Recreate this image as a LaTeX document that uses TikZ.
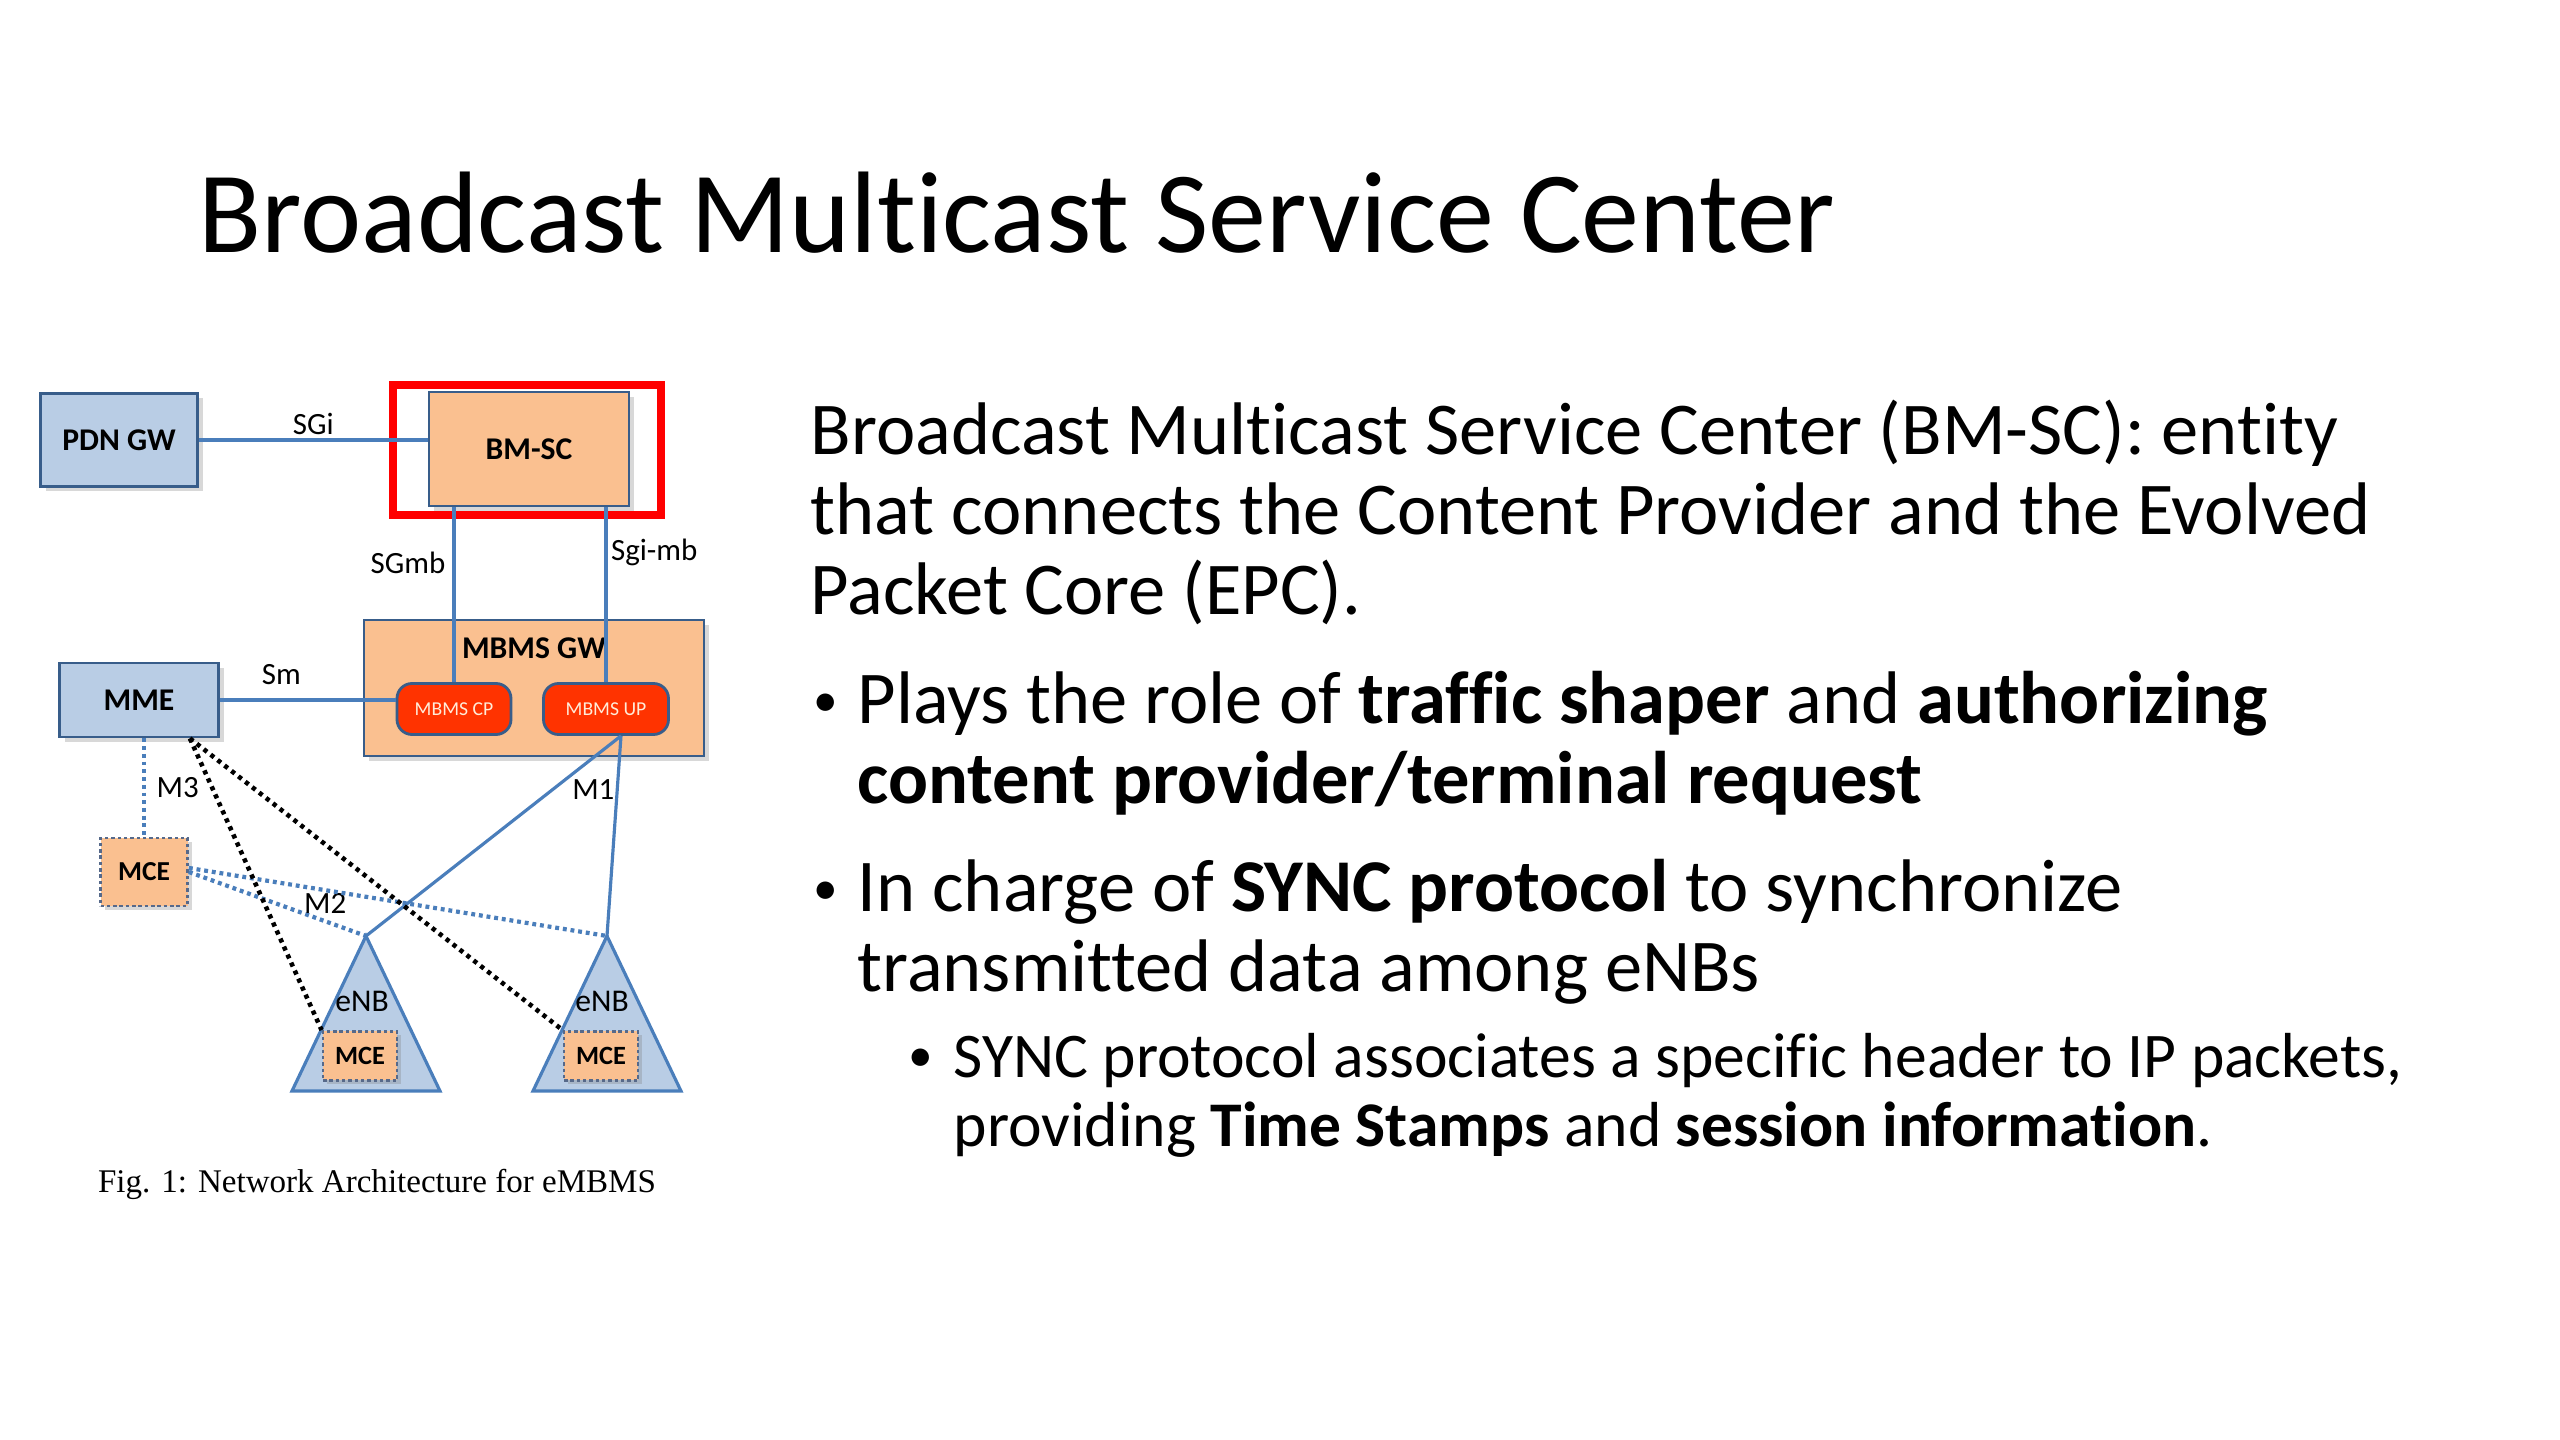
\documentclass[tikz,border=0pt]{standalone}
\usepackage{fontspec}
\setmainfont{Carlito}[Ligatures=NoCommon]
\newfontfamily\capfont{Liberation Serif}
\usepackage{tikz}
\usetikzlibrary{calc,positioning,shadows}
\definecolor{boxblue}{HTML}{B9CDE5}
\definecolor{edgeblue}{HTML}{4A7EBB}
\definecolor{darkedge}{HTML}{385D8A}
\definecolor{boxorange}{HTML}{FAC090}
\definecolor{cpred}{HTML}{FF3300}
\definecolor{mceedge}{HTML}{56698A}

\tikzset{
  netbox/.style={rectangle, draw=darkedge, line width=0.8pt, inner sep=0pt,
    font=\fontsize{9}{10}\selectfont\bfseries,
    drop shadow={shadow xshift=0.5mm, shadow yshift=-0.5mm, opacity=0.3}},
  bluebox/.style={netbox, fill=boxblue},
  orangebox/.style={netbox, fill=boxorange},
  subbox/.style={rectangle, rounded corners=1.5mm, fill=cpred, draw=darkedge, line width=0.8pt,
    text=white!85!orange, font=\fontsize{5.6}{6}\selectfont, inner sep=0pt},
  mcebox/.style={rectangle, fill=boxorange, draw=mceedge, dash pattern=on 1pt off 0.8pt, line width=0.8pt,
    font=\fontsize{7.8}{9}\selectfont\bfseries, inner sep=0pt,
    drop shadow={shadow xshift=0.4mm, shadow yshift=-0.4mm, opacity=0.3}},
  enbshape/.style={fill=boxblue, draw=edgeblue, line width=0.9pt, line join=miter},
  link/.style={draw=edgeblue, line width=0.9pt},
  ctrl/.style={draw=edgeblue, dash pattern=on 1.1pt off 1.1pt, line width=1.2pt},
  sync/.style={draw=black, dash pattern=on 1.2pt off 1.3pt, line width=1.3pt},
  lbl/.style={font=\fontsize{8.8}{10}\selectfont, inner sep=1pt},
  body/.style={font=\fontsize{21.2}{25}\selectfont, inner sep=0pt, anchor=base west},
  subbody/.style={font=\fontsize{18.1}{21}\selectfont, inner sep=0pt, anchor=base west},
  bulletdot/.style={font=\fontsize{14}{16}\selectfont, inner sep=0pt, anchor=base west},
}

\begin{document}
\begin{tikzpicture}[x=0.1mm, y=-0.1mm]
  \useasboundingbox[fill=white] (0,0) rectangle (2560,1440);

  % Title
  \node[font=\fontsize{33}{40}\selectfont, inner sep=0pt, anchor=base west] (title) at (198,253) {Broadcast Multicast Service Center};

  % Core boxes
  \node[bluebox, minimum width=15.7mm, minimum height=9.3mm] (pdngw) at (119,440) {PDN GW};
  \node[orangebox, minimum width=20mm, minimum height=11.4mm] (bmsc) at (529,449) {BM-SC};
  \node[draw=red, line width=2pt, minimum width=26.8mm, minimum height=13mm, inner sep=0pt] (focus) at (527,450) {};
  \node[orangebox, minimum width=34mm, minimum height=13.6mm] (mbmsgw) at (534,688) {};
  \node[font=\fontsize{9}{10}\selectfont\bfseries, inner sep=0pt] (gwlabel) at ([yshift=-3mm]mbmsgw.north) {MBMS GW};
  \node[subbox, minimum width=11.4mm, minimum height=5.1mm] (mbmscp) at (454,709) {MBMS CP};
  \node[subbox, minimum width=12.5mm, minimum height=5.1mm] (mbmsup) at (606,709) {MBMS UP};
  \node[bluebox, minimum width=15.9mm, minimum height=7.4mm] (mme) at (139,700) {MME};
  \node[mcebox, minimum width=8.7mm, minimum height=6.8mm] (mce) at (144,872) {MCE};

  % eNBs
  \coordinate (enbtopA) at (366,936);
  \coordinate (enbtopB) at (607,936);
  \draw[enbshape] (enbtopA) -- ++(-74,155) -- ++(148,0) -- cycle;
  \draw[enbshape] (enbtopB) -- ++(-74,155) -- ++(148,0) -- cycle;
  \node[font=\fontsize{9}{10}\selectfont, inner sep=0pt] (enblblA) at (362,1001) {eNB};
  \node[font=\fontsize{9}{10}\selectfont, inner sep=0pt] (enblblB) at (602,1001) {eNB};
  \node[mcebox, minimum width=7.4mm, minimum height=4.9mm, font=\fontsize{7.5}{9}\selectfont\bfseries] (mceA) at (360,1056) {MCE};
  \node[mcebox, minimum width=7.4mm, minimum height=4.9mm, font=\fontsize{7.5}{9}\selectfont\bfseries] (mceB) at (601,1056) {MCE};

  % Interfaces
  \draw[link] (pdngw.east) -- (pdngw.east -| bmsc.west) node[lbl, midway, above=0pt] {SGi};
  \draw[link] (bmsc.south -| mbmscp.north) -- (mbmscp.north) node[lbl, pos=0.32, left=1pt] {SGmb};
  \draw[link] (bmsc.south -| mbmsup.north) -- (mbmsup.north) node[lbl, pos=0.26, right=0pt] {Sgi-mb};
  \draw[link] (mme.east) -- (mme.east -| mbmscp.west) node[lbl, pos=0.35, above=3pt] {Sm};
  \draw[ctrl] (mme.south -| mce.north) -- (mce.north) node[lbl, midway, right=2pt] {M3};

  \coordinate (upfoot) at ([xshift=1.5mm]mbmsup.south);
  \draw[link] (upfoot) -- (enbtopA) node[lbl, pos=0.27, right=1.5mm] {M1};
  \draw[link] (upfoot) -- (enbtopB);

  \draw[ctrl] (mce.east) -- (enbtopA) node[lbl, pos=0.77, above=0.5pt] {M2};
  \draw[ctrl] ([yshift=0.4mm]mce.east) -- (enbtopB);

  \coordinate (mmefoot) at ([xshift=-3mm]mme.south east);
  \draw[sync] (mmefoot) -- (mceA.north west);
  \draw[sync] (mmefoot) -- (mceB.north west);

  % Caption
  \node[font=\capfont\fontsize{9.4}{11}\selectfont, inner sep=0pt, anchor=base] (caption) at (377,1192) {Fig. 1: Network Architecture for eMBMS};

  % Right-hand text
  \node[body] (introA) at (810,455) {Broadcast Multicast Service Center (BM-SC): entity};
  \node[body] (introB) at ([yshift=-8mm]introA.base west) {that connects the Content Provider and the Evolved};
  \node[body] (introC) at ([yshift=-8mm]introB.base west) {Packet Core (EPC).};

  \node[bulletdot] (dotA) at (813,717) {•};
  \node[body] (roleA) at (857,724) {Plays the role of \textbf{traffic shaper} and \textbf{authorizing}};
  \node[body] (roleB) at ([yshift=-8mm]roleA.base west) {\textbf{content provider/terminal request}};

  \node[bulletdot] (dotB) at (813,905) {•};
  \node[body] (syncA) at (857,912) {In charge of \textbf{SYNC protocol} to synchronize};
  \node[body] (syncB) at ([yshift=-8mm]syncA.base west) {transmitted data among eNBs};

  \node[bulletdot] (dotC) at (908,1072) {•};
  \node[subbody] (hdrA) at (953,1078) {SYNC protocol associates a specific header to IP packets,};
  \node[subbody] (hdrB) at ([yshift=-6.9mm]hdrA.base west) {providing \textbf{Time Stamps} and \textbf{session information}.};
\end{tikzpicture}
\end{document}
